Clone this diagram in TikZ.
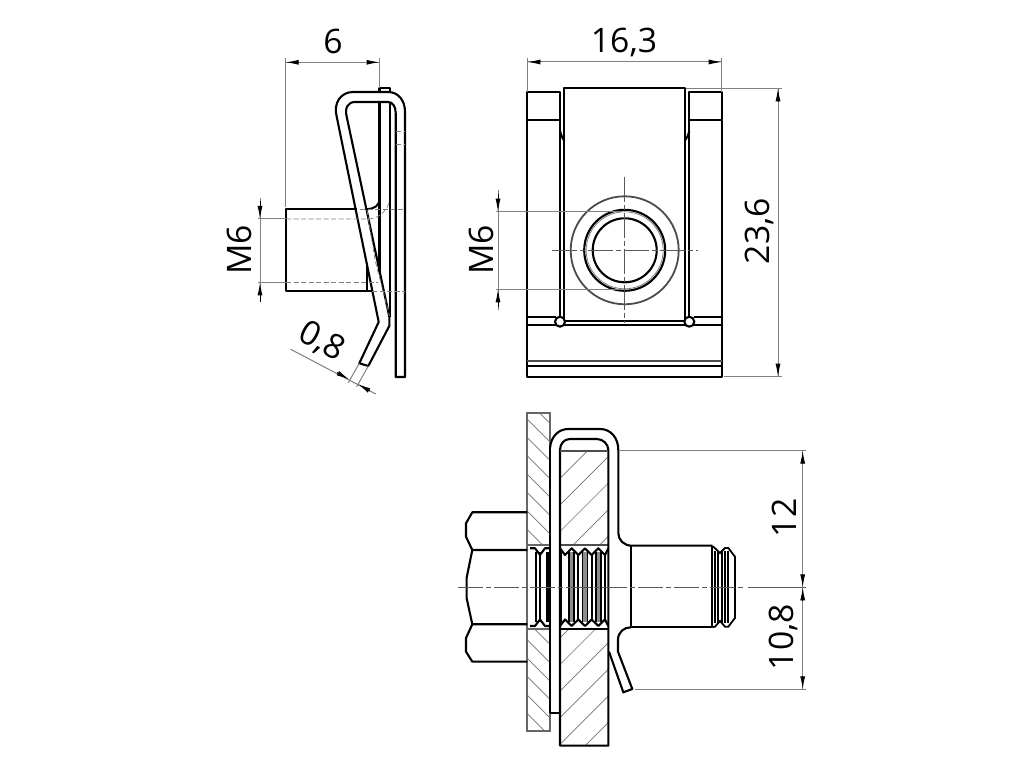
\documentclass[tikz,border=0pt]{standalone}
\usepackage{fontspec}
\setmainfont{Open Sans}
\usetikzlibrary{arrows.meta}
\tikzstyle{outline} = [line width=0.42mm,black,line join=round]
\tikzstyle{midline} = [line width=0.36mm,black!70]
\tikzstyle{thinline} = [line width=0.2mm,black!50]
\tikzstyle{hatchline} = [line width=0.14mm,black!55]
\tikzstyle{hidden} = [line width=0.14mm,black!50,dash pattern=on 1mm off 0.5mm]
\tikzstyle{axis} = [line width=0.16mm,black!65,dash pattern=on 5mm off 0.6mm on 1mm off 0.6mm]
\tikzstyle{dimline} = [line width=0.2mm,black!50]
\tikzstyle{dimtip} = [line width=0.2mm,black,-{Latex[length=2.6mm,width=1mm]}]
\tikzstyle{dimtext} = [font=\fontsize{19.2}{20}\selectfont,inner sep=0pt]
\begin{document}
\begin{tikzpicture}[x=0.2mm,y=-0.2mm]
\useasboundingbox (0,0) rectangle (1024,768);
\fill[white] (0,0) rectangle (1024,768);

% side view
\draw[outline] (379.5,92) -- (379.5,88) -- (390,88) -- (390,92);
\draw[outline] (379.5,102) -- (379.5,271.6);
\draw[outline] (390,102) -- (390,317);
\draw[outline] (405,377) -- (405,112) .. controls (405,100) and (398,92) .. (388,92) -- (353,92) .. controls (341,92) and (333,103) .. (336.7,116.7) -- (378.7,322) -- (359.3,363.3) -- (368.3,366) -- (389.3,326) -- (389.3,316.7) -- (346.7,116.7) .. controls (344.5,108) and (348,102) .. (355,102) -- (388,102) .. controls (393,102) and (395.7,107) .. (395.7,113) -- (395.7,377) -- cycle;
\draw[outline] (356.7,209.3) -- (285.7,209.3) -- (285.7,291) -- (372.4,291);
\draw[outline] (366.7,263) -- (366.7,291);
\draw[outline] (379.5,200) arc (0:90:12.8 and 9.3);
\draw[hidden] (286,219) -- (370,219) .. controls (378,218) and (386,212) .. (389,203);
\draw[hidden] (286,282.5) -- (378,282.5);
\draw[hidden] (360,209.3) -- (405,209.3);
\draw[hidden] (372.4,291) -- (405,291);
\draw[hidden] (367,210) -- (375,260) -- (389.5,316);
\draw[hidden] (396,131.7) -- (405,131.7);
\draw[hidden] (396,144.3) -- (405,144.3);

\draw[dimline] (285.7,58) -- (285.7,207);
\draw[dimline] (379.5,58) -- (379.5,88);
\draw[dimline] (285.7,62.3) -- (379.5,62.3);
\draw[dimtip] (298.7,62.3) -- (285.7,62.3);
\draw[dimtip] (366.5,62.3) -- (379.5,62.3);
\node[dimtext] (sixlabel) at (333,41) {6};

\draw[dimline] (260,198) -- (260,302);
\draw[dimline] (258,219) -- (286,219);
\draw[dimline] (258,282.5) -- (286,282.5);
\draw[dimtip] (260,201) -- (260,219);
\draw[dimtip] (260,302) -- (260,282.5);
\node[dimtext,rotate=90] (sidethread) at (239,250) {M6};

\draw[dimline] (359.3,363.3) -- (348.3,382.7);
\draw[dimline] (368.3,366) -- (356.7,386.7);
\draw[dimline] (290.7,349.3) -- (375.7,394);
\draw[dimtip] (337,372.6) -- (349.3,379.6);
\draw[dimtip] (370,391) -- (357.7,384);
\node[dimtext,rotate=-28] (gaugelabel) at (321.7,341.7) {0,8};

% front view
\draw[outline] (560,316.7) -- (560,92.3) -- (527.3,92.3) -- (527.3,376.7) -- (721.7,376.7) -- (721.7,92.3) -- (689.3,92.3) -- (689.3,316.7);
\draw[outline] (564.3,320.7) -- (564.3,88.3) -- (684.7,88.3) -- (684.7,320.7) -- cycle;
\draw[outline] (527.3,120) -- (560,120);
\draw[outline] (689.3,120) -- (721.7,120);
\draw[outline] (560,131) .. controls (561,135) and (562,137) .. (564.3,141);
\draw[outline] (689.3,131) .. controls (688.3,135) and (687.3,137) .. (684.7,141);
\draw[outline] (527.3,316.7) -- (555.5,316.7);
\draw[outline] (693.8,316.7) -- (721.7,316.7);
\draw[outline] (527.3,325.3) -- (721.7,325.3);
\draw[midline] (527.3,361) -- (721.7,361);
\draw[outline] (527.3,365.7) -- (721.7,365.7);
\draw[outline,fill=white] (560,321.7) circle (5);
\draw[outline,fill=white] (689.3,321.7) circle (5);
\draw[midline] (624.7,250.3) circle (54);
\draw[outline] (624.7,250.3) circle (40.5);
\draw[hatchline] (624.7,250.3) circle (38.5);
\draw[outline] (624.7,250.3) circle (32);
\draw[axis] (551.7,250.3) -- (698,250.3);
\draw[axis] (624.7,176.7) -- (624.7,323);

\draw[dimline] (527.3,58) -- (527.3,92);
\draw[dimline] (721.7,58) -- (721.7,92);
\draw[dimline] (527.3,62) -- (721.7,62);
\draw[dimtip] (540.3,62) -- (527.3,62);
\draw[dimtip] (708.7,62) -- (721.7,62);
\node[dimtext] (widthlabel) at (624,42) {16,3};

\draw[dimline] (686,88.3) -- (782,88.3);
\draw[dimline] (724,376.7) -- (782,376.7);
\draw[dimline] (778,88.3) -- (778,376.7);
\draw[dimtip] (778,101.3) -- (778,88.3);
\draw[dimtip] (778,363.7) -- (778,376.7);
\node[dimtext,rotate=90] (heightlabel) at (759,231) {23,6};

\draw[dimline] (498,190) -- (498,310);
\draw[dimline] (496,211.7) -- (622,211.7);
\draw[dimline] (496,289.3) -- (622,289.3);
\draw[dimtip] (498,194) -- (498,211.7);
\draw[dimtip] (498,307) -- (498,289.3);
\node[dimtext,rotate=90] (frontthread) at (481,250) {M6};

% section view
\begin{scope}
\clip (527.3,413.3) rectangle (550,545) (527.3,629) rectangle (550,730.7);
\foreach \s in {-204.7,-186.3,...,140}
  \draw[hatchline] ({\s+400},400) -- ({\s+750},750);
\end{scope}
\begin{scope}
\clip (560,450.7) rectangle (608.3,545) (560,629.3) rectangle (608.3,745.7);
\foreach \s in {1038.3,1064.9,...,1360}
  \draw[hatchline] ({\s-400},400) -- ({\s-760},760);
\end{scope}

\draw[midline,black!60] (527.3,413.3) rectangle (550,730.7);
\draw[midline,black!60] (527.3,545) -- (550,545);
\draw[midline,black!60] (527.3,629) -- (550,629);

% bolt head
\draw[outline] (527.3,512.3) -- (472.3,512.3) -- (466,523.3) -- (466,536.7) -- (472.3,550) -- (527.3,550);
\draw[outline] (472.3,550) -- (466.6,578) -- (466.6,598) -- (472.3,624.3);
\draw[outline] (527.3,624.3) -- (472.3,624.3) -- (466,638) -- (466,651.7) -- (472.3,661.7) -- (527.3,661.7);

% thread in plate
\fill[black!45] (546.7,552) rectangle (549.7,622);
\foreach \x in {536,540,546.7,549.3}
  \draw[midline,black] (\x,552) -- (\x,622);
\draw[outline] (530,548.3) -- (535,548.3) -- (540,555) -- (545,548.3) -- (550,548.3);
\draw[outline] (530,626) -- (535,626) -- (540,619.5) -- (545,626) -- (550,626);

% thread in block
\draw[line width=0.7mm] (560.7,552) -- (560.7,622);
\foreach \x in {571.7,585,598.3} {
  \fill[black!45] (\x-2,552) rectangle (\x+2,622);
  \draw[midline,black] (\x-2.5,552) -- (\x-2.5,622);
  \draw[midline,black] (\x+2.5,552) -- (\x+2.5,622);
}
\foreach \x in {578.3,591.7,605}
  \draw[midline,black] (\x,555) -- (\x,619.5);
\draw[outline] (560,548.3) -- (565,555) -- (571.7,548.3) -- (578.3,555) -- (585,548.3) -- (591.7,555) -- (598.3,548.3) -- (605,555) -- (608.3,548.3);
\draw[outline] (560,626) -- (565,619.5) -- (571.7,626) -- (578.3,619.5) -- (585,626) -- (591.7,619.5) -- (598.3,626) -- (605,619.5) -- (608.3,626);
\draw[midline] (560,545) -- (608.3,545);
\draw[outline] (560,629.3) -- (608.3,629.3);

% clip in section
\draw[outline] (550,448) .. controls (551,436) and (559,429) .. (568.3,429) -- (600,429) .. controls (611,429) and (618.3,438) .. (618.3,450) -- (618.3,533) .. controls (618.3,540) and (624,545.7) .. (631.7,545.7) -- (712.3,545.7);
\draw[outline] (631,627.3) -- (712.3,627.3);
\draw[outline] (631,627.3) .. controls (624,627.3) and (618,632) .. (618,640) -- (618,651.7) -- (632.3,689) -- (623.3,692.3) -- (609,651.7);
\draw[outline] (560,745.7) -- (560,450) .. controls (560,444) and (564,439) .. (570,439) -- (596.7,439) .. controls (603,439) and (608.3,444) .. (608.3,450) -- (608.3,745.7) -- cycle;
\draw[outline] (550,713.3) -- (560,713.3);
\draw[outline] (550,448) -- (550,713.3);
\draw[midline] (560,450.7) -- (608.3,450.7);

% bolt end
\draw[midline,black] (631,546) -- (631,627.3);
\draw[outline] (712.3,545.7) -- (712.3,627.3);
\draw[midline,black] (712.3,546) -- (715,548.3) -- (720,553) -- (725,548) -- (728.3,548) -- (735,556.7) -- (735,618) -- (728.3,626.7) -- (725,626.7) -- (720,621) -- (715,626.7) -- (712.3,627.3);
\foreach \x in {715,718,722,725,728.3}
  \draw[midline,black] (\x,551) -- (\x,623);

\draw[axis] (458,587.3) -- (744,587.3);
\draw[thinline,black!65] (748,587.3) -- (806,587.3);

\draw[dimline] (620,450.7) -- (806,450.7);
\draw[dimline] (635,689.3) -- (806,689.3);
\draw[dimline] (802.7,450.7) -- (802.7,689.3);
\draw[dimtip] (802.7,463.7) -- (802.7,450.7);
\draw[dimtip] (802.7,575) -- (802.7,587.3);
\draw[dimtip] (802.7,599.6) -- (802.7,587.3);
\draw[dimtip] (802.7,676.3) -- (802.7,689.3);
\node[dimtext,rotate=90] (upperlabel) at (784,518) {12};
\node[dimtext,rotate=90] (lowerlabel) at (783,637) {10,8};
\end{tikzpicture}
\end{document}
